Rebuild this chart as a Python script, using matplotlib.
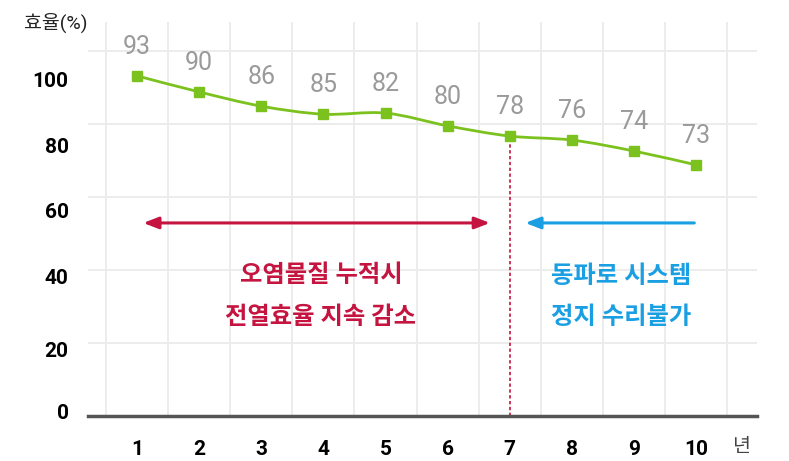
import matplotlib
matplotlib.use("Agg")
import matplotlib.pyplot as plt
from matplotlib.path import Path
from matplotlib.patches import PathPatch

plt.rcParams["font.family"] = ["Roboto", "Noto Sans CJK KR", "DejaVu Sans"]

# ─── Data ────────────────────────────────────────────────────────────────────
years = [1, 2, 3, 4, 5, 6, 7, 8, 9, 10]
line_vals = [93.2, 88.8, 84.9, 82.7, 83.0, 79.5, 76.7, 75.6, 72.6, 68.8]   # as drawn
label_vals = [93, 90, 86, 85, 82, 80, 78, 76, 74, 73]                      # as printed
grid_vals = [0, 20, 40, 60, 80, 100]
ytick_pos = [1.1, 18.1, 38.1, 56.4, 74.0, 92.3]
ytick_labels = ["0", "20", "40", "60", "80", "100"]

GREEN = "#7cc21f"
RED = "#c4143f"
BLUE = "#1a9fe3"

fig = plt.figure(figsize=(7.89, 4.61), dpi=100)
ax = fig.add_axes([0.1115, 0.0976, 0.848, 0.855])
ax.set_xlim(0.21, 10.98)
ax.set_ylim(0, 108)

# grid
for g in grid_vals[1:]:
    ax.axhline(g, color="#ebebeb", lw=1.3, zorder=0)
for x in years + [11]:
    ax.axvline(x - 0.5, color="#ebebeb", lw=1.3, zorder=0)

for s in ["top", "right", "left"]:
    ax.spines[s].set_visible(False)
ax.spines["bottom"].set_color("#555555")
ax.spines["bottom"].set_linewidth(2.5)

# smooth line (Catmull-Rom as cubic Bezier)
pts = list(zip(years, line_vals))
verts = [pts[0]]
codes = [Path.MOVETO]
for i in range(len(pts) - 1):
    p0 = pts[max(i - 1, 0)]
    p1 = pts[i]
    p2 = pts[i + 1]
    p3 = pts[min(i + 2, len(pts) - 1)]
    c1 = (p1[0] + (p2[0] - p0[0]) / 6, p1[1] + (p2[1] - p0[1]) / 6)
    c2 = (p2[0] - (p3[0] - p1[0]) / 6, p2[1] - (p3[1] - p1[1]) / 6)
    verts += [c1, c2, p2]
    codes += [Path.CURVE4] * 3
ax.add_patch(PathPatch(Path(verts, codes), fc="none", ec=GREEN, lw=2, zorder=3))
ax.plot(years, line_vals, ls="none", marker="s", ms=6.5, color=GREEN, zorder=4)

for x, y, lab in zip(years, line_vals, label_vals):
    ax.annotate(str(lab), (x, y), xytext=(0, 16), textcoords="offset points",
                ha="center", va="baseline", fontsize=18, color="#9a9a9a")

# dashed marker at year 7
ax.plot([7, 7], [0, line_vals[6]], color=RED, lw=1.2, ls=(0, (2, 1.5)), zorder=2)

# arrows
ax.annotate("", xy=(1.10, 52.9), xytext=(6.68, 52.9),
            arrowprops=dict(arrowstyle="<|-|>,head_length=0.9,head_width=0.35",
                            color=RED, lw=2.2, shrinkA=0, shrinkB=0))
ax.annotate("", xy=(7.25, 52.9), xytext=(9.97, 52.9),
            arrowprops=dict(arrowstyle="-|>,head_length=0.9,head_width=0.35",
                            color=BLUE, lw=2.2, shrinkA=0, shrinkB=0))

ax.text(3.96, 38.6, "오염물질 누적시", ha="center", va="center",
        fontsize=17.5, fontweight="bold", color=RED)
ax.text(3.96, 27.1, "전열효율 지속 감소", ha="center", va="center",
        fontsize=17.5, fontweight="bold", color=RED)
ax.text(8.79, 38.1, "동파로 시스템", ha="center", va="center",
        fontsize=17.5, fontweight="bold", color=BLUE)
ax.text(8.79, 27.1, "정지 수리불가", ha="center", va="center",
        fontsize=17.5, fontweight="bold", color=BLUE)

# ticks
ax.set_xticks(years)
ax.set_xticklabels([str(y) for y in years], fontsize=15, fontweight="bold")
ax.set_yticks(ytick_pos)
ax.set_yticklabels(ytick_labels, fontsize=15, fontweight="bold")
ax.tick_params(axis="x", length=0, pad=17)
ax.tick_params(axis="y", length=0, pad=14)

fig.text(0.031, 0.950, "효율(%)", ha="left", va="center", fontsize=14, color="#222222")
fig.text(0.940, 0.030, "년", ha="center", va="center", fontsize=14, color="#444444")

fig.savefig("out.png", dpi=100)
